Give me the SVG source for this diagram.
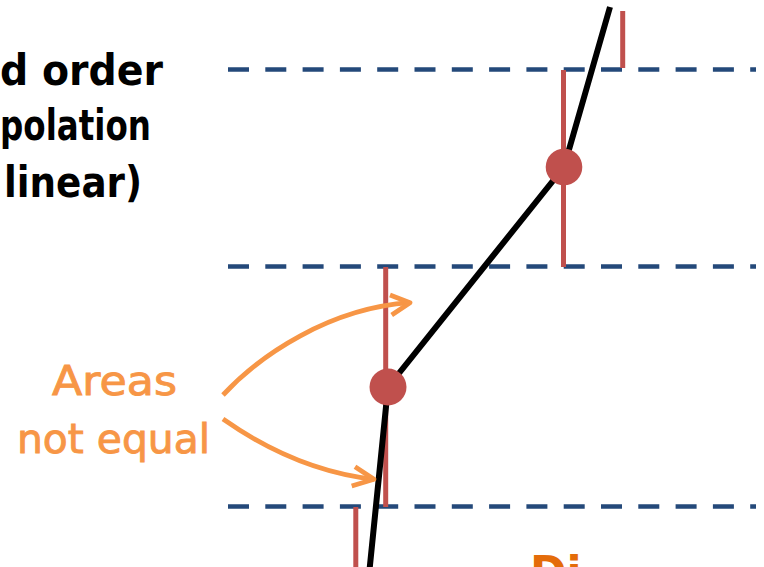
<svg xmlns="http://www.w3.org/2000/svg" width="764" height="567" viewBox="0 0 764 567">
<style>
.grid{stroke:#24497A;stroke-width:4.5;stroke-dasharray:21 16.3;fill:none}
.bar{stroke:#C0504D;stroke-width:5;fill:none}
.pt{fill:#C0504D}
.curve{stroke:#000;stroke-width:6;fill:none;stroke-linejoin:round}
.arrow{stroke:#F79646;stroke-width:4.8;fill:none;stroke-linejoin:round}
.title{font-family:"DejaVu Sans",sans-serif;font-weight:bold;font-size:42px;fill:#000}
.note{font-family:"DejaVu Sans",sans-serif;font-size:40px;fill:#F79646;stroke:#F79646;stroke-width:0.9}
.next{font-family:"DejaVu Sans",sans-serif;font-weight:bold;font-size:44px;fill:#E46C0A}
</style>
<rect width="764" height="567" fill="#fff"/>
<g id="title">
<text class="title" x="0" y="85" textLength="163" lengthAdjust="spacingAndGlyphs">d order</text>
<text class="title" x="0" y="140" textLength="151" lengthAdjust="spacingAndGlyphs">polation</text>
<text class="title" x="4" y="197" textLength="138" lengthAdjust="spacingAndGlyphs">linear)</text>
</g>
<g id="grid">
<line class="grid" x1="228" y1="69.5" x2="756" y2="69.5"/>
<line class="grid" x1="228" y1="266.5" x2="756" y2="266.5"/>
<line class="grid" x1="228" y1="506.5" x2="756" y2="506.5"/>
</g>
<g id="bars">
<line class="bar" x1="622.7" y1="11" x2="622.7" y2="68"/>
<line class="bar" x1="563.5" y1="70" x2="563.5" y2="267"/>
<line class="bar" x1="385.7" y1="267" x2="385.7" y2="507"/>
<line class="bar" x1="355.8" y1="507" x2="355.8" y2="567"/>
</g>
<g id="connectors">
<polyline class="curve" points="610,7 564,167 388,387 369.5,570"/>
<path class="arrow" d="M223,395 C260,355 330,308 410,302.7"/>
<polyline class="arrow" points="390,295 410,302.7 391.7,315"/>
<path class="arrow" d="M223,419 C260,445 310,472 374,479.3"/>
<polyline class="arrow" points="355,466.7 374,479.3 351.7,486"/>
</g>
<g id="point-upper"><circle class="pt" cx="564" cy="167" r="18.3"/></g>
<g id="point-lower"><circle class="pt" cx="388" cy="387" r="18.5"/></g>
<g id="label-areas">
<text class="note" x="114.5" y="395" text-anchor="middle" textLength="125" lengthAdjust="spacingAndGlyphs">Areas</text>
<text class="note" x="113.5" y="453" text-anchor="middle" textLength="193" lengthAdjust="spacingAndGlyphs">not equal</text>
</g>
<g id="next-label">
<text class="next" x="530" y="588">Di</text>
</g>
</svg>
